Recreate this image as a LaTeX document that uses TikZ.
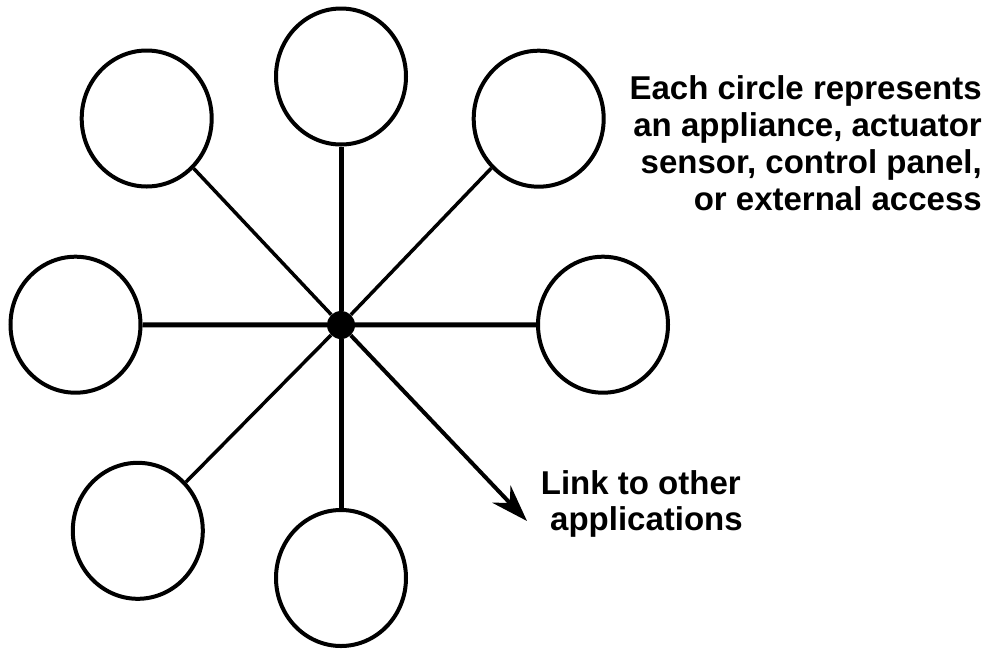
\documentclass[tikz,border=0pt]{standalone}
\usepackage{fontspec}
\setmainfont{Liberation Sans}
\usetikzlibrary{arrows.meta,shapes.geometric}
\begin{document}
\begin{tikzpicture}[x=1pt,y=-1pt,
  dev/.style={ellipse,draw,line width=4pt,minimum width=130pt,minimum height=136pt,inner sep=0pt},
  hubdot/.style={circle,fill=black,minimum size=28pt,inner sep=0pt},
  spoke/.style={line width=5pt},
  dspoke/.style={line width=3.5pt},
  linkarrow/.style={line width=4pt,-{Stealth[length=37pt,width=25pt,inset=12pt]}},
  lbl/.style={font=\fontsize{33}{37}\selectfont\bfseries,inner sep=0pt}
]
\useasboundingbox (0,0) rectangle (996,649);
\node[hubdot] (hub) at (341,325) {};
\node[dev] (t)  at (341,76.5) {};
\node[dev] (tl) at (146.7,118.5) {};
\node[dev] (tr) at (538.7,118.7) {};
\node[dev] (l)  at (75.5,324.7) {};
\node[dev] (r)  at (603,324.7) {};
\node[dev] (bl) at (137.8,530.8) {};
\node[dev] (b)  at (341,578) {};
\draw[spoke] (hub) -- (t);
\draw[spoke] (hub) -- (l);
\draw[spoke] (hub) -- (r);
\draw[spoke,shorten >=-4pt] (hub) -- (b);
\draw[dspoke] (hub) -- (tl);
\draw[dspoke] (hub) -- (tr);
\draw[dspoke] (hub) -- (bl);
\coordinate (tip) at (527,521);
\draw[linkarrow] (hub) -- (tip);
\node[lbl,align=right,anchor=north east] (note) at (982,75)
  {Each circle represents\\an appliance, actuator\\sensor, control panel,\\or external access};
\node[lbl,font=\fontsize{33}{36}\selectfont\bfseries,align=left,anchor=north west] (link) at (540.7,470.5)
  {Link to other\\\hspace*{9.3pt}applications};
\end{tikzpicture}
\end{document}
